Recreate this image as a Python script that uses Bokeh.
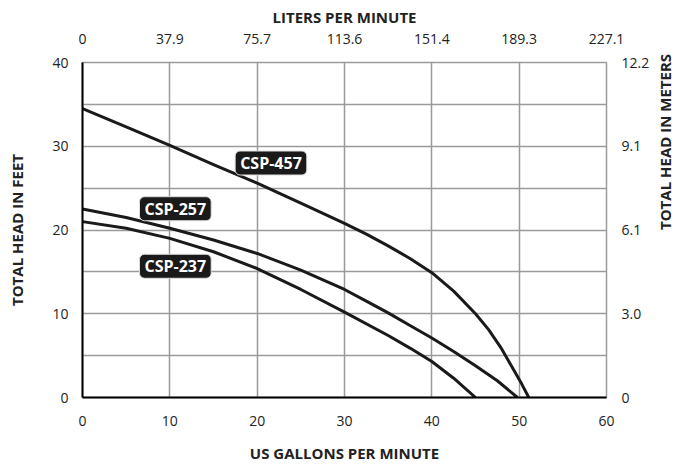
from bokeh.plotting import figure
from bokeh.models import Range1d, LinearAxis, FixedTicker, Label
from bokeh.embed import file_html
from bokeh.resources import INLINE
import math

# ---- data ----
gpm_ticks = [0, 10, 20, 30, 40, 50, 60]
lpm_labels = ["0", "37.9", "75.7", "113.6", "151.4", "189.3", "227.1"]
ft_ticks = [0, 10, 20, 30, 40]
m_labels = ["0", "3.0", "6.1", "9.1", "12.2"]

csp457_gpm = [0, 5, 10, 15, 20, 25, 30, 32.5, 35, 37.5, 40, 42.5, 45, 46.5, 48, 49.2, 50.3, 51.1]
csp457_ft = [34.5, 32.3, 30.1, 27.8, 25.6, 23.2, 20.8, 19.5, 18.1, 16.6, 14.9, 12.7, 10.0, 8.1, 5.8, 3.6, 1.6, 0]

csp257_gpm = [0, 5, 10, 15, 20, 25, 30, 32.5, 35, 37.5, 40, 42.5, 45, 47.5, 49.8]
csp257_ft = [22.5, 21.5, 20.2, 18.8, 17.2, 15.2, 12.9, 11.5, 10.1, 8.6, 7.1, 5.5, 3.8, 2.0, 0]

csp237_gpm = [0, 5, 10, 15, 20, 25, 30, 35, 37.5, 40, 42.5, 45]
csp237_ft = [21.0, 20.2, 19.0, 17.4, 15.4, 12.9, 10.2, 7.4, 5.9, 4.3, 2.3, 0]

series_names = ["CSP-457", "CSP-257", "CSP-237"]

FONT = "Open Sans"
TXT = "#222222"
GRID = "#9a9a9a"
CURVE = "#1a1a1a"

W, H = 688, 465
p = figure(width=W, height=H, x_range=Range1d(0, 60), y_range=Range1d(0, 40),
           output_backend="svg", toolbar_location=None,
           min_border_left=82, min_border_right=81, min_border_top=62, min_border_bottom=68)
p.background_fill_color = "white"
p.border_fill_color = "white"
p.outline_line_color = GRID
p.outline_line_width = 1.5

# grids
p.xgrid.ticker = FixedTicker(ticks=gpm_ticks)
p.ygrid.ticker = FixedTicker(ticks=list(range(0, 41, 5)))
for g in (p.xgrid, p.ygrid):
    g.grid_line_color = GRID
    g.grid_line_width = 1.5

def style_axis(ax, standoff, title, title_standoff):
    ax.major_tick_line_color = None
    ax.minor_tick_line_color = None
    ax.major_tick_out = 0
    ax.major_tick_in = 0
    ax.major_label_standoff = standoff
    ax.major_label_text_font = FONT
    ax.major_label_text_font_size = "14px"
    ax.major_label_text_color = TXT
    ax.axis_label = title
    ax.axis_label_standoff = title_standoff
    ax.axis_label_text_font = FONT
    ax.axis_label_text_font_size = "15px"
    ax.axis_label_text_font_style = "bold"
    ax.axis_label_text_color = TXT

# bottom
xa = p.xaxis[0]
xa.ticker = FixedTicker(ticks=gpm_ticks)
style_axis(xa, 18, "US GALLONS PER MINUTE", 14)
xa.axis_line_color = "black"
xa.axis_line_width = 2

# left
ya = p.yaxis[0]
ya.ticker = FixedTicker(ticks=ft_ticks)
style_axis(ya, 14, "TOTAL HEAD IN FEET", 22)
ya.axis_line_color = "black"
ya.axis_line_width = 2

# top
top = LinearAxis(ticker=FixedTicker(ticks=gpm_ticks),
                 major_label_overrides={t: l for t, l in zip(gpm_ticks, lpm_labels)})
style_axis(top, 19, "LITERS PER MINUTE", 4)
top.axis_line_color = None
p.add_layout(top, "above")

# right
right = LinearAxis(ticker=FixedTicker(ticks=ft_ticks),
                   major_label_overrides={t: l for t, l in zip(ft_ticks, m_labels)})
style_axis(right, 15, "TOTAL HEAD IN METERS", 13)
right.axis_line_color = None
if "axis_label_orientation" in right.properties():
    right.axis_label_orientation = math.pi / 2
p.add_layout(right, "right")

# curves
for xs, ys in ((csp457_gpm, csp457_ft), (csp257_gpm, csp257_ft), (csp237_gpm, csp237_ft)):
    p.line(xs, ys, line_color=CURVE, line_width=3, line_join="round")

# series labels (anchor positions)
label_pos = [(21.58, 28.0), (10.63, 22.54), (10.63, 15.67)]
for name, (lx, ly) in zip(series_names, label_pos):
    shadow = Label(x=lx, y=ly, text=name, text_align="center", text_baseline="middle",
                   x_offset=2, y_offset=-2, text_font=FONT, text_font_size="16px",
                   text_font_style="bold", text_alpha=0,
                   background_fill_color="#777777", background_fill_alpha=0.5,
                   border_radius=5, padding=(5, 1))
    p.add_layout(shadow)
    lab = Label(x=lx, y=ly, text=name, text_align="center", text_baseline="middle",
                text_font=FONT, text_font_size="16px", text_font_style="bold",
                text_color="white", background_fill_color="#1a1a1a",
                border_line_color="#dddddd", border_line_width=1,
                border_radius=5, padding=(5, 1))
    p.add_layout(lab)

open("out.html", "w").write(file_html(p, INLINE))
